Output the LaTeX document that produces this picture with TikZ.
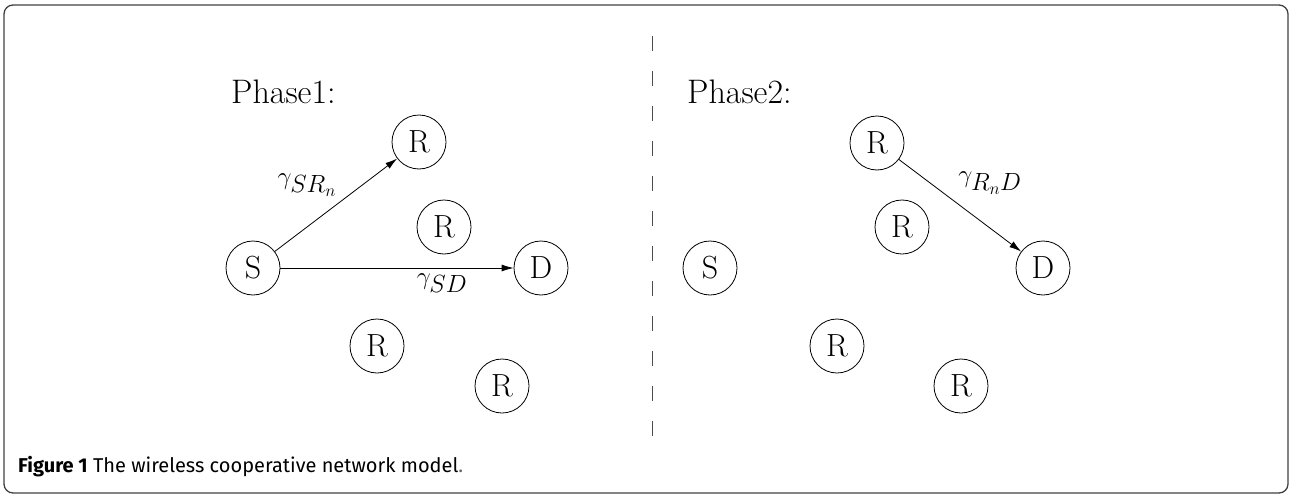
\documentclass[tikz,border=0pt]{standalone}
\usepackage{fontspec}
\newfontfamily\capfont{Fira Sans}
\usetikzlibrary{arrows.meta}
\tikzset{
  nd/.style={circle,draw,line width=0.8pt,minimum size=54pt,inner sep=0pt,font=\fontsize{32}{36}\selectfont},
  lbl/.style={font=\fontsize{34}{38}\selectfont,anchor=base west,inner sep=0pt},
  arr/.style={-{Latex[length=12pt,width=7pt]},line width=0.8pt},
  ml/.style={font=\fontsize{34}{38}\selectfont,inner sep=0pt}
}
\begin{document}
\begin{tikzpicture}[x=1pt,y=-1pt]
\useasboundingbox (0,0) rectangle (1290,495);
\draw[line width=1.3pt,draw=black!75,rounded corners=9pt] (4,5) rectangle (1288,493);
\draw[dashed,dash pattern=on 15pt off 20pt,line width=1pt,draw=black!70] (652,36) -- (652,438);
% Phase 1
\node[lbl] (p1) at (231,103) {Phase1:};
\node[nd] (s1) at (253,268) {S};
\node[nd] (r1a) at (419,142) {R};
\node[nd] (r1b) at (444,227) {R};
\node[nd] (d1) at (541,268) {D};
\node[nd] (r1c) at (377,346) {R};
\node[nd] (r1d) at (502,386) {R};
\draw[arr] (s1) -- (r1a);
\draw[arr] (s1) -- (d1);
\node[ml] (g1) at (307,185) {$\gamma_{SR_n}$};
\node[ml] (g2) at (442,283) {$\gamma_{SD}$};
% Phase 2
\node[lbl] (p2) at (687,103) {Phase2:};
\node[nd] (s2) at (710,268) {S};
\node[nd] (r2a) at (877,143) {R};
\node[nd] (r2b) at (902,227) {R};
\node[nd] (d2) at (1043,268) {D};
\node[nd] (r2c) at (837,346) {R};
\node[nd] (r2d) at (961,386) {R};
\draw[arr] (r2a) -- (d2);
\node[ml] (g3) at (990,183) {$\gamma_{R_nD}$};
% caption
\node[anchor=base west,inner sep=0pt,font=\capfont\fontsize{20}{23}\selectfont] (cap) at (18,472) {\textbf{Figure 1} The wireless cooperative network model\textcolor{black!60}{.}};
\end{tikzpicture}
\end{document}
